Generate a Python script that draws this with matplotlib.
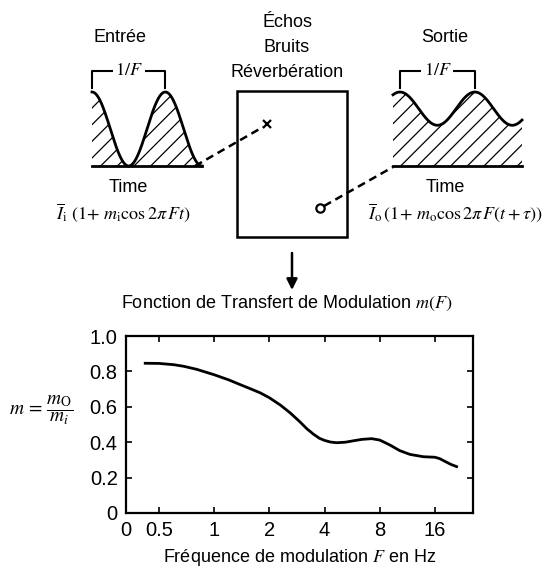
"""Modulation transfer function schematic: input / room / output, and m(F) curve."""
import numpy as np
import matplotlib
matplotlib.use("Agg")
import matplotlib.pyplot as plt
from matplotlib.patches import Rectangle

plt.rcParams["font.family"] = ["Liberation Sans", "DejaVu Sans"]
plt.rcParams["mathtext.fontset"] = "stix"
plt.rcParams["hatch.linewidth"] = 0.9

# m(F) curve
FREQ_HZ = [0.42, 0.5, 0.6, 0.68, 0.8, 1.0, 1.2, 1.38, 1.6, 1.78, 2.0, 2.3, 2.6,
           2.94, 3.2, 3.47, 3.75, 4.0, 4.3, 4.65, 5.2, 5.74, 6.4, 7.22, 8.0,
           9.09, 10.3, 11.7, 13.8, 16.0, 17.0, 17.8, 19.5, 21.0]
MTF = [0.846, 0.845, 0.838, 0.829, 0.812, 0.781, 0.752, 0.726, 0.699, 0.679,
       0.651, 0.609, 0.565, 0.514, 0.476, 0.446, 0.422, 0.410, 0.401, 0.397,
       0.400, 0.408, 0.416, 0.420, 0.412, 0.384, 0.352, 0.331, 0.318, 0.315,
       0.307, 0.296, 0.275, 0.262]

X_TICKS = [0.5, 1, 2, 4, 8, 16]
X_TICK_LABELS = ["0.5", "1", "2", "4", "8", "16"]
Y_TICKS = [0, 0.2, 0.4, 0.6, 0.8, 1.0]
Y_TICK_LABELS = ["0", "0.2", "0.4", "0.6", "0.8", "1.0"]

# schematic signals I(t) = I_mean (1 + m cos 2 pi F t), t in periods
M_IN, I_MEAN_IN = 1.0, 1.0
M_OUT, I_MEAN_OUT = 0.29, 1.55
T_IN = (0.0, 1.5)
T_OUT = (-0.093, 1.63)

W, H = 551, 568
FS = 13


def px_axes(fig, x0, y0, x1, y1):
    """Axes placed by pixel box (top-left origin)."""
    return fig.add_axes([x0 / W, 1 - y1 / H, (x1 - x0) / W, (y1 - y0) / H])


def draw_wave(fig, box, t_range, i_mean, m):
    ax = px_axes(fig, *box)
    t = np.linspace(t_range[0], t_range[1], 400)
    i = i_mean * (1 + m * np.cos(2 * np.pi * t))
    ax.fill_between(t, 0, i, facecolor="none", edgecolor="black",
                    hatch="//", linewidth=0)
    ax.plot(t, i, color="black", lw=2, clip_on=False)
    ax.plot(t_range, [0, 0], color="black", lw=2, clip_on=False)
    # 1/F bracket over one period
    ax.plot([0, 0, 1, 1], [2.11, 2.57, 2.57, 2.11], color="black", lw=1.5,
            clip_on=False)
    ax.text(0.5, 2.57, r"$1/F$", ha="center", va="center", fontsize=FS,
            bbox=dict(facecolor="white", edgecolor="none", pad=1.5))
    ax.set_xlim(*t_range)
    ax.set_ylim(0, 2)
    ax.axis("off")


def draw_mtf(fig):
    ax = px_axes(fig, 126, 336, 473, 513)
    ax.plot(FREQ_HZ, MTF, color="black", lw=2)
    ax.set_xscale("log", base=2)
    ax.set_xlim(0.33, 25.8)
    ax.set_ylim(0, 1)
    ax.set_xticks([0.33] + X_TICKS, ["0"] + X_TICK_LABELS)
    ax.minorticks_off()
    ax.set_yticks(Y_TICKS, Y_TICK_LABELS)
    ax.tick_params(direction="in", top=True, right=True, length=4, width=1.2,
                   labelsize=14.5, pad=6)
    for s in ax.spines.values():
        s.set_linewidth(1.6)
    ax.set_xlabel(r"Fréquence de modulation $F$ en Hz", fontsize=FS, labelpad=5)


def draw_schema(fig):
    ax = fig.add_axes([0, 0, 1, 1])
    ax.set_xlim(0, W)
    ax.set_ylim(H, 0)
    ax.axis("off")

    ax.text(120, 42, "Entrée", ha="center", va="baseline", fontsize=FS)
    ax.text(445, 42, "Sortie", ha="center", va="baseline", fontsize=FS)
    ax.text(287, 27, "Échos", ha="center", va="baseline", fontsize=FS)
    ax.text(287, 52, "Bruits", ha="center", va="baseline", fontsize=FS)
    ax.text(287, 77, "Réverbération", ha="center", va="baseline", fontsize=FS)
    ax.text(128, 192, "Time", ha="center", va="baseline", fontsize=FS)
    ax.text(445, 192, "Time", ha="center", va="baseline", fontsize=FS)
    ax.text(123, 213, r"$\overline{I}_{\mathrm{i}}\ (1\!+\,m_{\mathrm{i}}\cos 2\pi\,Ft)$",
            ha="center", va="center", fontsize=FS)
    ax.text(455, 213, r"$\overline{I}_{\mathrm{o}}\,(1\!+\,m_{\mathrm{o}}\cos 2\pi\,F(t+\tau))$",
            ha="center", va="center", fontsize=FS)

    # room box with source and receiver
    ax.add_patch(Rectangle((237, 91), 110, 146, fill=False, lw=1.8, ec="black"))
    dash = (0, (3.2, 2))
    ax.plot([195, 263], [166, 127], color="black", lw=1.8, ls=dash)
    ax.plot([324, 393], [206, 167], color="black", lw=1.8, ls=dash)
    ax.plot(267, 124, marker="x", ms=6, mew=1.6, color="black")
    ax.plot(320, 208, marker="o", ms=6, mew=1.6, mfc="white", color="black")

    ax.annotate("", xy=(292, 290), xytext=(292, 253),
                arrowprops=dict(arrowstyle="-|>", lw=1.8, color="black",
                                mutation_scale=16, shrinkA=0, shrinkB=0))
    ax.text(287, 308, r"Fonction de Transfert de Modulation $m(F)$",
            ha="center", va="baseline", fontsize=FS)
    ax.text(74, 410, r"$m\,=\,\dfrac{m_{\mathrm{O}}}{m_i}$", ha="right",
            va="center", fontsize=FS + 1)


def main():
    fig = plt.figure(figsize=(W / 100, H / 100), dpi=100)
    draw_wave(fig, (92, 92, 202, 166), T_IN, I_MEAN_IN, M_IN)
    draw_wave(fig, (393, 92, 522, 166), T_OUT, I_MEAN_OUT, M_OUT)
    draw_mtf(fig)
    draw_schema(fig)
    fig.savefig("out.png", dpi=100)
    plt.close(fig)


if __name__ == "__main__":
    main()
